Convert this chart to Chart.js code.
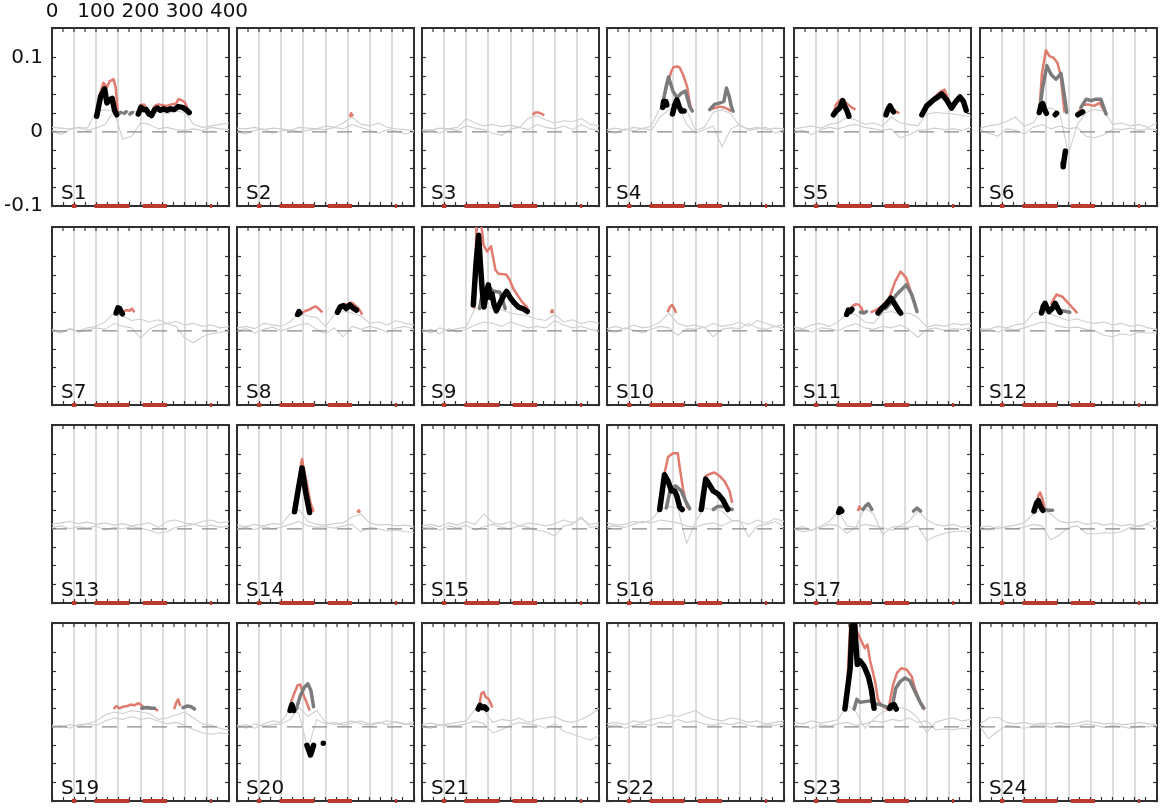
<!DOCTYPE html>
<html><head><meta charset="utf-8">
<script src="https://cdn.jsdelivr.net/npm/chart.js@4.4.0/dist/chart.umd.min.js"></script>
<style>
html,body{margin:0;padding:0;background:#fff;}
#wrap{position:relative;width:1166px;height:809px;overflow:hidden;background:#fff;}
#wrap canvas{position:absolute;}
.lab{position:absolute;font-family:"DejaVu Sans";font-size:20px;line-height:20px;color:#111;white-space:nowrap;}
</style></head><body><div id="wrap"></div>
<script>
// ---------------- data ----------------
const panelNames = ['S1','S2','S3','S4','S5','S6','S7','S8','S9','S10','S11','S12',
  'S13','S14','S15','S16','S17','S18','S19','S20','S21','S22','S23','S24'];
const xTickValues = [0,100,200,300,400];
const xTickLabels = ['0','100','200','300','400'];
const yTickValues = [-0.1,0,0.1];
const yTickLabels = ['-0.1','0','0.1'];
const traceX = [0,20,40,60,80,100,120,140,160,180,200,220,240,260,280,300,320,340,360,380,400];
const traceA = [
 [0.006,0.005,0.004,0.006,0.005,0.028,0.030,0.027,0.025,0.028,0.026,0.025,0.027,0.024,0.028,0.026,0.010,0.006,0.008,0.010,0.012],
 [0.005,0.004,0.006,0.003,0.005,0.004,0.002,0.006,0.005,0.004,0.008,0.006,0.012,0.020,0.010,0.008,0.012,0.006,0.004,0.003,0.002],
 [0.003,0.002,0.005,0.004,0.006,0.018,0.012,0.008,0.010,0.007,0.009,0.006,0.018,0.022,0.016,0.012,0.015,0.014,0.018,0.010,0.008],
 [0.003,0.005,0.002,0.006,0.004,0.008,0.032,0.038,0.034,0.030,0.002,0.006,0.026,0.030,0.024,0.008,0.004,0.006,0.003,0.005,0.004],
 [0.004,0.006,0.008,0.005,0.010,0.012,0.020,0.016,0.010,0.012,0.008,0.020,0.012,0.010,0.008,0.024,0.026,0.025,0.024,0.022,0.020],
 [0.005,0.008,0.010,0.014,0.020,0.008,0.012,0.030,0.032,0.026,-0.030,0.010,0.026,0.030,0.028,0.010,0.012,0.008,0.010,0.006,0.012],
 [0.002,-0.002,0.003,0.000,0.004,0.006,0.012,0.024,0.020,0.014,0.016,0.012,0.015,0.010,0.013,0.008,0.010,0.006,0.008,0.004,0.006],
 [0.004,0.006,0.003,0.010,0.008,0.006,0.012,0.024,0.020,0.018,0.006,0.022,0.026,0.024,0.020,0.010,0.012,0.008,0.014,0.010,0.008],
 [0.002,-0.003,0.004,0.000,0.003,0.005,0.030,0.034,0.030,0.028,0.024,0.022,0.020,0.016,0.014,0.022,0.012,0.015,0.010,0.013,0.010],
 [0.003,0.006,0.002,0.008,0.004,0.006,0.012,0.024,0.010,0.006,0.008,0.004,0.010,0.006,0.008,0.012,0.006,0.014,0.010,0.006,0.008],
 [0.005,0.003,0.008,0.010,0.006,0.012,0.024,0.022,0.012,0.010,0.024,0.026,0.022,0.024,0.018,0.005,0.008,0.006,0.010,0.008,0.010],
 [0.003,0.002,0.006,0.004,0.008,0.010,0.024,0.026,0.022,0.018,0.014,0.016,0.012,0.010,0.012,0.008,0.010,0.006,0.008,0.004,0.002],
 [0.006,0.008,0.010,0.007,0.009,0.006,0.008,0.005,0.007,0.004,0.006,0.008,0.002,0.010,0.012,0.008,0.006,0.010,0.012,0.008,0.010],
 [0.005,0.003,0.006,0.004,0.007,0.006,0.020,0.026,0.010,0.006,0.005,0.007,0.008,0.016,0.020,0.008,0.005,0.006,0.004,0.005,0.003],
 [0.004,0.006,0.003,0.008,0.005,0.010,0.006,0.020,0.008,0.006,0.010,0.004,0.008,0.006,0.004,0.007,0.012,0.008,0.014,0.006,0.008],
 [0.008,0.005,0.006,0.010,0.008,0.012,0.026,0.030,0.028,-0.020,0.010,0.028,0.026,0.024,0.012,0.010,0.006,0.012,0.008,0.014,0.010],
 [0.000,0.003,-0.002,0.004,0.010,0.024,0.004,0.002,0.028,0.020,-0.008,0.002,0.004,0.010,0.024,0.012,0.006,0.004,0.006,0.002,0.004],
 [0.002,0.004,0.000,0.003,0.005,0.008,0.020,0.026,0.020,0.010,0.008,0.010,0.006,0.008,0.005,0.007,0.004,0.006,0.003,0.008,0.012],
 [0.000,0.002,-0.002,0.003,0.004,0.008,0.016,0.020,0.018,0.022,0.020,0.018,0.010,0.012,0.016,0.020,0.012,0.004,0.002,-0.002,-0.005],
 [0.000,0.003,-0.002,0.004,0.008,0.006,0.024,0.018,-0.030,0.010,0.004,0.006,0.002,0.005,0.008,0.004,0.006,0.003,0.007,0.004,0.002],
 [0.003,0.005,0.002,0.004,0.006,0.008,0.024,0.022,0.006,0.010,0.008,0.012,0.006,0.010,0.012,0.014,0.008,0.006,0.010,0.016,0.025],
 [0.004,0.006,0.003,0.008,0.006,0.010,0.012,0.016,0.014,0.018,0.022,0.014,0.010,0.008,0.012,0.010,0.006,0.008,0.004,0.006,0.008],
 [0.006,0.004,0.008,0.005,0.007,0.010,0.030,0.020,-0.002,0.010,0.020,0.024,0.026,0.022,0.012,-0.008,0.006,0.010,0.012,0.008,0.010],
 [0.004,0.012,0.013,0.006,0.004,0.006,0.003,0.005,0.004,0.006,0.003,0.005,0.008,0.006,0.004,0.005,0.003,0.004,0.006,0.004,0.003]
];
const traceB = [
 [0.002,-0.004,0.003,0.006,0.002,0.005,0.010,0.028,-0.010,-0.006,0.012,0.010,0.004,0.006,0.003,0.002,0.004,0.002,0.006,0.004,0.003],
 [0.000,-0.003,0.002,0.004,-0.002,0.001,0.003,0.000,0.002,0.004,0.003,0.006,0.004,0.010,0.006,0.002,-0.002,0.003,0.001,-0.003,0.000],
 [0.000,0.003,-0.002,0.004,0.002,0.008,0.005,0.003,-0.002,-0.005,0.004,0.006,0.003,0.010,0.006,0.004,0.008,0.003,0.010,0.004,0.002],
 [0.000,-0.002,0.004,0.001,0.005,0.002,0.020,0.030,0.036,0.010,-0.002,0.003,0.008,-0.020,0.004,0.010,0.002,0.004,0.006,-0.002,0.003],
 [0.000,0.002,-0.004,0.003,0.006,0.004,0.008,0.010,0.006,0.004,0.002,0.004,-0.008,-0.004,0.002,0.003,0.005,0.003,0.004,0.002,0.006],
 [0.002,-0.002,-0.006,0.004,0.002,-0.003,0.006,0.010,0.004,0.008,0.004,0.006,-0.006,-0.008,-0.004,0.004,0.003,0.005,0.002,0.004,0.003],
 [0.000,-0.003,0.002,-0.002,0.001,0.004,0.002,0.010,0.006,0.004,-0.010,0.002,0.008,0.010,0.006,-0.010,-0.016,-0.008,-0.004,-0.002,0.000],
 [0.000,0.003,-0.003,0.002,0.005,0.000,0.004,0.008,0.010,0.002,-0.004,0.004,-0.008,0.006,0.002,0.006,0.003,-0.002,0.004,0.006,0.002],
 [-0.002,0.002,-0.004,0.003,-0.002,0.002,0.008,0.012,0.010,0.006,0.012,0.008,0.004,0.006,0.004,0.014,0.008,0.004,0.006,0.002,0.000],
 [0.000,-0.002,0.004,0.001,-0.003,0.002,0.006,0.004,-0.006,0.003,0.002,0.005,-0.008,0.002,0.004,0.003,0.010,0.004,0.002,0.006,0.003],
 [0.000,0.002,-0.002,0.004,0.003,0.000,0.006,0.010,0.004,0.002,0.006,0.004,0.008,0.002,-0.009,0.002,0.004,0.000,0.003,0.002,0.004],
 [0.000,0.002,-0.002,0.003,0.001,0.004,0.008,0.012,0.010,0.006,0.004,0.005,0.002,0.000,-0.006,-0.008,-0.004,-0.006,-0.002,-0.003,-0.003],
 [0.002,0.004,0.000,0.003,0.001,0.004,-0.002,0.002,0.000,0.003,0.001,-0.002,-0.006,-0.004,0.002,0.004,0.006,0.003,0.005,0.002,0.004],
 [0.000,0.002,-0.001,0.003,0.000,0.002,0.006,0.010,0.004,0.002,0.003,0.001,0.004,0.006,-0.004,0.002,0.000,-0.003,-0.002,-0.004,-0.005],
 [0.000,0.003,-0.002,0.004,0.001,0.005,-0.002,0.003,0.006,0.002,0.000,0.004,0.002,-0.002,-0.004,-0.010,0.004,0.006,0.016,0.002,0.004],
 [0.003,0.004,0.002,0.006,0.010,0.008,0.012,0.010,0.008,0.004,0.002,0.006,0.008,0.004,0.010,0.012,-0.011,0.004,0.006,0.010,0.003],
 [0.000,-0.004,-0.002,0.002,0.006,0.004,-0.006,0.002,0.006,0.004,0.002,-0.002,0.003,0.002,0.004,-0.016,-0.010,-0.006,-0.004,-0.003,-0.005],
 [0.000,-0.002,0.003,0.001,0.000,0.002,0.006,0.004,-0.015,-0.008,0.002,0.004,-0.006,-0.007,-0.005,-0.006,-0.004,0.002,0.004,0.006,0.000],
 [0.002,0.000,0.003,0.001,0.004,0.002,0.008,0.012,0.010,0.014,0.010,0.012,0.008,0.004,0.006,0.002,-0.004,-0.008,-0.010,-0.008,-0.010],
 [0.002,-0.002,0.004,0.001,0.003,0.004,0.010,0.026,0.014,0.022,0.006,0.003,0.005,0.008,0.004,0.002,0.005,0.008,0.006,0.003,0.006],
 [0.000,-0.002,0.003,0.001,0.002,0.004,0.008,0.004,-0.008,-0.004,0.002,0.006,0.004,0.002,-0.002,0.004,-0.006,-0.010,-0.014,-0.018,-0.012],
 [0.000,0.003,-0.002,0.002,0.004,0.002,0.006,0.004,0.010,0.006,0.008,0.004,0.002,0.005,0.003,0.006,0.002,0.000,0.003,0.002,0.004],
 [0.002,0.000,-0.002,0.003,0.001,0.004,0.006,0.002,0.004,0.008,0.006,0.010,0.008,0.012,0.006,0.008,-0.004,-0.003,-0.004,-0.002,-0.003],
 [0.000,-0.016,-0.006,0.002,0.000,-0.002,0.001,0.003,-0.001,0.002,0.000,0.001,0.004,0.002,-0.001,0.002,0.000,-0.002,0.001,0.000,0.002]
];
// highlighted segments per panel: lists of [x, y] runs
const salmonSegs = [
 [[[101,0.021],[108,0.050],[116,0.066],[124,0.060],[130,0.068],[139,0.071],[144,0.060],[149,0.023]],
  [[195,0.025],[200,0.036],[208,0.037],[215,0.030],[220,0.025]],
  [[225,0.023],[232,0.035],[240,0.037],[250,0.036],[260,0.035],[270,0.037],[280,0.038],[286,0.044],[295,0.042],[300,0.040],[305,0.033],[312,0.024]]],
 [[[255,0.020],[258,0.025],[262,0.021]]],
 [[[250,0.023],[256,0.026],[264,0.026],[272,0.024],[276,0.022]]],
 [[[127,0.041],[134,0.059],[145,0.081],[150,0.087],[158,0.088],[164,0.087],[172,0.077],[181,0.061],[186,0.043],[191,0.028]],
  [[232,0.030],[243,0.032],[255,0.034],[264,0.033],[272,0.031],[281,0.028]]],
 [[[89,0.024],[95,0.037],[103,0.042],[110,0.044],[116,0.040],[122,0.037],[130,0.033],[139,0.030]],
  [[208,0.024],[217,0.036],[225,0.029],[232,0.027],[238,0.025]],
  [[289,0.024],[300,0.036],[315,0.045],[330,0.054],[340,0.057],[346,0.048],[356,0.033],[366,0.042],[375,0.048],[383,0.042],[389,0.029]]],
 [[[134,0.026],[140,0.079],[149,0.110],[157,0.102],[166,0.100],[175,0.093],[182,0.077],[187,0.048],[191,0.026]],
  [[221,0.024],[232,0.036],[243,0.037],[258,0.035],[270,0.039],[279,0.030],[285,0.024]]],
 [[[156,0.027],[162,0.026],[168,0.028],[175,0.027],[181,0.030],[186,0.025]]],
 [[[147,0.024],[155,0.027],[162,0.028],[170,0.031],[178,0.033],[186,0.029],[193,0.025]],
  [[227,0.028],[240,0.036],[250,0.036],[258,0.038],[266,0.035],[275,0.030],[283,0.022]]],
 [[[118,0.030],[124,0.160],[131,0.160],[139,0.116],[147,0.107],[156,0.114],[166,0.082],[173,0.077],[190,0.076],[198,0.069],[207,0.056],[216,0.048],[226,0.039],[236,0.033],[241,0.026]],
  [[291,0.024],[294,0.028],[297,0.024]]],
 [[[137,0.025],[142,0.032],[147,0.035],[152,0.030],[156,0.024]]],
 [[[119,0.022],[125,0.028],[132,0.033],[140,0.036],[147,0.035],[153,0.030],[157,0.024]],
  [[173,0.025],[185,0.028],[198,0.033],[215,0.044],[229,0.067],[241,0.080],[254,0.071],[266,0.049],[275,0.035]]],
 [[[160,0.035],[164,0.040],[173,0.049],[186,0.046],[203,0.035],[220,0.024]]],
 [],
 [[[139,0.060],[144,0.085],[147,0.094],[152,0.078],[159,0.058],[166,0.035],[173,0.023]],
  [[272,0.022],[275,0.025],[278,0.022]]],
 [],
 [[[123,0.028],[130,0.075],[138,0.097],[149,0.102],[160,0.102],[164,0.084],[172,0.053],[181,0.030],[185,0.027]],
  [[217,0.028],[223,0.071],[232,0.074],[243,0.076],[255,0.071],[266,0.064],[277,0.051],[283,0.035]]],
 [[[144,0.024],[148,0.030],[152,0.026]]],
 [[[126,0.030],[132,0.045],[136,0.049],[141,0.040],[146,0.028]]],
 [[[139,0.024],[145,0.028],[152,0.025],[160,0.027],[170,0.028],[178,0.030],[186,0.029],[195,0.032],[200,0.030],[206,0.027],[212,0.026],[220,0.025],[230,0.025],[240,0.022]],
  [[276,0.024],[281,0.033],[285,0.037],[290,0.028]]],
 [[[122,0.033],[130,0.046],[137,0.056],[143,0.057],[151,0.042],[160,0.029],[164,0.022]]],
 [[[130,0.030],[134,0.045],[139,0.047],[144,0.040],[150,0.038],[155,0.032],[159,0.026]]],
 [],
 [[[118,0.030],[128,0.150],[134,0.160],[142,0.129],[149,0.120],[160,0.106],[166,0.111],[172,0.089],[183,0.062],[190,0.036],[198,0.029],[213,0.023]],
  [[213,0.023],[224,0.057],[233,0.073],[243,0.079],[255,0.077],[266,0.068],[273,0.052],[285,0.034],[296,0.024]]],
 []
];
const graySegs = [
 [[[150,0.025],[156,0.026]],[[163,0.025],[168,0.027]],[[176,0.024],[182,0.026]]],
 [], [],
 [[[127,0.041],[134,0.062],[139,0.074],[149,0.055],[158,0.046],[168,0.052],[177,0.055],[187,0.034],[193,0.028]],
  [[232,0.030],[243,0.037],[255,0.039],[264,0.041],[270,0.059],[276,0.048],[281,0.034],[285,0.028]]],
 [],
 [[[134,0.026],[142,0.061],[151,0.089],[161,0.077],[172,0.071],[183,0.079],[191,0.048],[196,0.026]],
  [[228,0.033],[240,0.044],[251,0.042],[262,0.044],[273,0.044],[285,0.024]]],
 [], [],
 [[[130,0.030],[136,0.050],[142,0.055],[150,0.060],[158,0.055],[166,0.053],[176,0.052],[183,0.040],[188,0.030]]],
 [],
 [[[150,0.025],[158,0.024],[164,0.026]],
  [[207,0.030],[215,0.035],[232,0.049],[254,0.062],[266,0.049],[278,0.026]]],
 [[[186,0.027],[195,0.026],[203,0.025]]],
 [], [], [],
 [[[134,0.028],[143,0.053],[155,0.058],[168,0.051],[178,0.037],[187,0.027]],
  [[240,0.026],[249,0.030],[264,0.030],[277,0.027],[283,0.026]]],
 [[[156,0.026],[162,0.031],[168,0.034],[176,0.026]],[[270,0.024],[278,0.028],[286,0.024]]],
 [[[147,0.026],[155,0.025],[164,0.025]]],
 [[[203,0.025],[215,0.026],[225,0.025],[232,0.025]],[[296,0.026],[305,0.028],[315,0.027],[322,0.024]]],
 [[[134,0.024],[143,0.042],[152,0.053],[160,0.058],[167,0.049],[173,0.027]]],
 [], [],
 [[[136,0.024],[142,0.037],[149,0.033],[160,0.034],[172,0.035],[183,0.031],[194,0.030],[209,0.027],[221,0.025]],
  [[221,0.024],[230,0.052],[240,0.061],[251,0.066],[262,0.062],[273,0.048],[285,0.033],[293,0.025]]],
 []
];
const blackSegs = [
 [[[101,0.021],[110,0.048],[119,0.058],[124,0.039],[130,0.043],[136,0.045],[141,0.030],[146,0.023]],
  [[195,0.024],[201,0.033],[207,0.030],[213,0.030],[219,0.024]],
  [[225,0.022],[232,0.030],[238,0.032],[245,0.029],[252,0.031],[260,0.029],[268,0.031],[276,0.030],[285,0.034],[295,0.033],[303,0.030],[310,0.026]]],
 [], [],
 [[[126,0.033],[128,0.041],[133,0.041],[135,0.036]],
  [[148,0.024],[153,0.036],[158,0.043],[163,0.034],[168,0.028],[174,0.028]]],
 [[[89,0.023],[95,0.028],[103,0.032],[110,0.042],[115,0.034],[120,0.028],[124,0.021]],
  [[208,0.023],[212,0.030],[217,0.035],[221,0.030],[225,0.027]],
  [[289,0.023],[300,0.035],[315,0.043],[325,0.047],[334,0.051],[345,0.043],[356,0.032],[366,0.041],[375,0.047],[383,0.041],[389,0.029]]],
 [[[134,0.026],[138,0.036],[142,0.038],[146,0.030],[150,0.025]],
  [[170,0.023],[173,0.025]],
  [[193,-0.026],[191,-0.034],[189,-0.042],[188,-0.047]],
  [[221,0.023],[226,0.025],[232,0.027]]],
 [[[145,0.024],[149,0.031],[153,0.030],[156,0.026],[159,0.023]]],
 [[[137,0.022],[140,0.026],[142,0.024]],
  [[227,0.025],[233,0.032],[240,0.034],[247,0.030],[255,0.035],[262,0.031],[270,0.028]]],
 [[[116,0.035],[122,0.090],[128,0.129],[132,0.090],[136,0.055],[140,0.032],[145,0.050],[150,0.062],[154,0.045],[158,0.050],[163,0.035],[168,0.027],[176,0.037],[184,0.047],[191,0.053],[199,0.045],[208,0.038],[218,0.032],[228,0.030],[238,0.026]]],
 [],
 [[[119,0.022],[123,0.028],[127,0.026],[131,0.029]],
  [[190,0.024],[198,0.030],[207,0.035],[219,0.044],[229,0.035],[236,0.028],[241,0.024]]],
 [[[139,0.024],[143,0.033],[147,0.037],[152,0.030],[156,0.026],[163,0.030],[170,0.037],[176,0.030],[181,0.025]]],
 [],
 [[[130,0.023],[139,0.055],[147,0.082],[155,0.050],[164,0.022]]],
 [],
 [[[119,0.026],[130,0.073],[138,0.064],[146,0.051],[153,0.051],[158,0.044],[164,0.030],[170,0.026]],
  [[213,0.026],[223,0.067],[231,0.060],[240,0.051],[251,0.047],[262,0.039],[273,0.026]]],
 [[[101,0.022],[104,0.027],[108,0.024]]],
 [[[122,0.024],[128,0.035],[132,0.038],[137,0.030],[142,0.025]]],
 [],
 [[[120,0.022],[124,0.030],[128,0.022]],
  [[158,-0.025],[163,-0.033],[166,-0.038],[169,-0.033],[173,-0.025]],
  [[195,-0.022],[196,-0.022]]],
 [[[127,0.024],[131,0.029],[136,0.026],[141,0.027],[146,0.024]]],
 [],
 [[[115,0.024],[127,0.079],[132,0.150],[136,0.150],[140,0.111],[143,0.084],[149,0.089],[158,0.082],[168,0.068],[175,0.050],[181,0.025]],
  [[216,0.025],[220,0.029],[226,0.030],[231,0.024]]],
 []
];
const redBars = [[45,55],[96,175],[205,260],[357,362]];

// ---------------- layout / style ----------------
const colLefts = [52,237,422,607,794,980];
const rowTops = [28,227,425,623];
const panelW = 177, panelH = 178;
const X_MIN = 0, X_MAX = 400, Y_MIN = -0.1, Y_MAX = 0.14;

Chart.defaults.font.family = 'DejaVu Sans';
Chart.defaults.font.size = 20;
Chart.defaults.color = '#111';

function segsToData(segs){
  const out = [];
  segs.forEach(seg => {
    seg.forEach(p => out.push({x:p[0], y:p[1]}));
    out.push({x:seg[seg.length-1][0], y:null});
  });
  return out;
}
function barsToData(bars){
  const out = [];
  bars.forEach(b => { out.push({x:b[0],y:Y_MIN}); out.push({x:b[1],y:Y_MIN}); out.push({x:b[1],y:null}); });
  return out;
}
const fitTo = size => s => {
  if (s.isHorizontal()) s.height = size; else s.width = size;
  s.paddingLeft = 0; s.paddingRight = 0; s.paddingTop = 0; s.paddingBottom = 0;
};
const tickGrid = {display:true, drawOnChartArea:false, drawTicks:true, tickLength:-4, tickColor:'#333', tickWidth:1.2};
const borderOpt = {display:true, color:'#2f2f2f', width:2};

const wrap = document.getElementById('wrap');
panelNames.forEach((name, i) => {
  const col = i % 6, row = Math.floor(i / 6);
  const first = i === 0;
  const mL = first ? 52 : 10, mT = first ? 28 : 10, mR = first ? 30 : 10, mB = 12;
  const w = panelW + mL + mR, h = panelH + mT + mB;
  const cv = document.createElement('canvas');
  cv.width = w; cv.height = h;
  cv.style.left = (colLefts[col] - mL) + 'px';
  cv.style.top = (rowTops[row] - mT) + 'px';
  cv.style.width = w + 'px'; cv.style.height = h + 'px';
  wrap.appendChild(cv);

  const lineBase = {pointRadius:0, pointHitRadius:0, tension:0, fill:false, xAxisID:'x', yAxisID:'y', borderJoinStyle:'round'};
  const datasets = [
    Object.assign({}, lineBase, {data: traceX.map((x,k)=>({x, y: traceA[i][k]})), borderColor:'#cfcfcf', borderWidth:1.1, order:7}),
    Object.assign({}, lineBase, {data: traceX.map((x,k)=>({x, y: traceB[i][k]})), borderColor:'#cfcfcf', borderWidth:1.1, order:6}),
    Object.assign({}, lineBase, {data: [{x:X_MIN,y:0},{x:X_MAX,y:0}], borderColor:'#8a8a8a', borderWidth:1.3, borderDash:[15,10], order:5}),
    Object.assign({}, lineBase, {data: segsToData(salmonSegs[i]), borderColor:'#e07b6e', borderWidth:2.5, order:4}),
    Object.assign({}, lineBase, {data: segsToData(graySegs[i]), borderColor:'#7b7b7b', borderWidth:3.5, borderCapStyle:'round', order:3}),
    Object.assign({}, lineBase, {data: segsToData(blackSegs[i]), borderColor:'#000000', borderWidth:5.5, borderCapStyle:'round', order:2}),
    Object.assign({}, lineBase, {data: barsToData(redBars), borderColor:'#bb3a30', borderWidth:4, borderCapStyle:'butt', clip:false, order:1})
  ];

  new Chart(cv, {
    type: 'line',
    data: {datasets},
    options: {
      responsive:false, animation:false, events:[],
      layout:{padding:{left: first ? 0 : mL, top: first ? 0 : mT, right:mR, bottom:mB}},
      plugins:{legend:{display:false}, tooltip:{enabled:false}, title:{display:false}},
      scales:{
        x:{type:'linear', position:'top', min:X_MIN, max:X_MAX, afterFit:fitTo(first ? mT : 0),
           ticks:{display:first, stepSize:25, autoSkip:false, maxRotation:0, minRotation:0, padding:8, color:'#111',
                  callback:(v)=>{const k = xTickValues.indexOf(v); return k >= 0 ? xTickLabels[k] : '';}},
           grid:{display:true, drawOnChartArea:true, drawTicks:true, tickLength:-4, tickColor:'#333', tickWidth:1.2, lineWidth:2,
                 color:(c)=>{const v = c.tick ? c.tick.value : -1; return (v > X_MIN && v < X_MAX && v % 50 === 0) ? '#dddddd' : 'rgba(0,0,0,0)';}},
           border:borderOpt},
        xb:{type:'linear', position:'bottom', min:X_MIN, max:X_MAX, afterFit:fitTo(0),
           ticks:{display:false, stepSize:25}, grid:tickGrid, border:borderOpt},
        y:{type:'linear', position:'left', min:Y_MIN, max:Y_MAX, afterFit:fitTo(first ? mL : 0),
           ticks:{display:first, stepSize:0.025, autoSkip:false, padding:13, color:'#111',
                  callback:(v)=>{const k = yTickValues.findIndex(t => Math.abs(t - v) < 1e-9); return k >= 0 ? yTickLabels[k] : '';}},
           grid:tickGrid, border:borderOpt},
        yr:{type:'linear', position:'right', min:Y_MIN, max:Y_MAX, afterFit:fitTo(0),
           ticks:{display:false, stepSize:0.025}, grid:tickGrid, border:borderOpt}
      }
    }
  });

  const lab = document.createElement('div');
  lab.className = 'lab';
  lab.textContent = name;
  lab.style.left = (colLefts[col] + 9) + 'px';
  lab.style.top = (rowTops[row] + panelH - 24) + 'px';
  wrap.appendChild(lab);
});
</script></body></html>
